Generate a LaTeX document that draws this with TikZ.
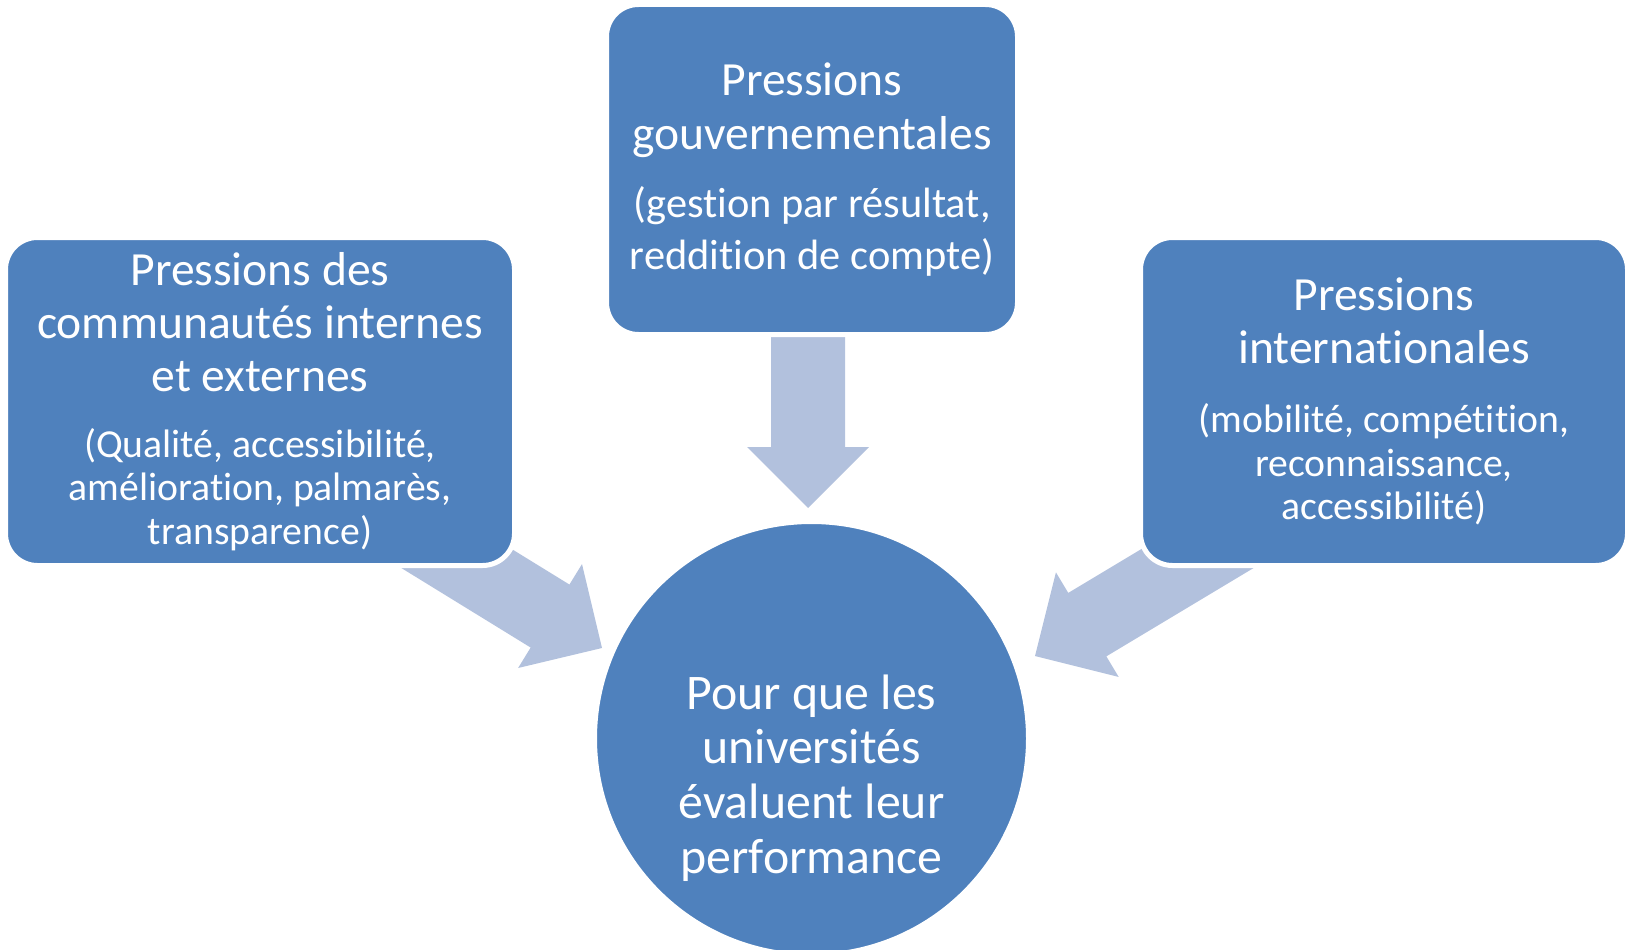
\documentclass[tikz,border=0pt]{standalone}
\usepackage{fontspec}
\setmainfont{Carlito}[Ligatures=NoCommon]
\usetikzlibrary{calc}
\definecolor{boxblue}{RGB}{79,129,189}
\definecolor{arrowblue}{RGB}{178,193,221}
\setlength{\parindent}{0pt}
\newcommand{\hdfont}{\fontsize{47.6}{53.3}\selectfont}
\newcommand{\smfont}{\fontsize{39.7}{43.6}\selectfont}
\newcommand{\smfontb}{\fontsize{42.4}{51.5}\selectfont}
\newcommand{\ctrfont}{\fontsize{49.8}{54.8}\selectfont}
\newcommand{\boxsetup}{\centering\setlength{\spaceskip}{0pt}\setlength{\xspaceskip}{0pt}}
\newcommand{\blockarrow}[2]{%
  \coordinate (ab) at ($(#2)!61pt!(#1)$);
  \fill[arrowblue] ($(#1)!37pt!90:(#2)$) -- ($(ab)!37pt!90:(#2)$) -- ($(ab)!61pt!90:(#2)$) -- (#2)
    -- ($(ab)!61pt!-90:(#2)$) -- ($(ab)!37pt!-90:(#2)$) -- ($(#1)!37pt!-90:(#2)$) -- cycle;}
\tikzset{
  pbox/.style={rectangle, rounded corners=32pt, fill=boxblue, draw=white, line width=5pt,
    text=white, inner sep=0pt},
}
\begin{document}
\begin{tikzpicture}[x=1pt, y=-1pt]
\useasboundingbox (0,0) rectangle (1630,950);

\coordinate (tailL) at (363,501);
\coordinate (tipL) at (602,648);
\coordinate (tailG) at (808,310);
\coordinate (tipG) at (808,508);
\coordinate (tailI) at (1275,512);
\coordinate (tipI) at (1035,656);
\foreach \src/\dst in {tailL/tipL, tailG/tipG, tailI/tipI}
{
  \blockarrow{\src}{\dst}
}

\node[pbox, minimum width=509pt, minimum height=328pt, text width=490pt] (comm) at (260,401.5)
  {\boxsetup{\hdfont Pressions des\\ communautés internes\\ et externes\par}\vspace{22pt}
   {\smfont (Qualité, accessibilité,\\ amélioration, palmarès,\\ transparence)\par}};
\node[pbox, minimum width=411pt, minimum height=330pt, text width=400pt] (gov) at (812,169.5)
  {\boxsetup{\hdfont Pressions\\ gouvernementales\par}\vspace{17pt}
   {\smfontb (gestion par résultat,\\ reddition de compte)\par}};
\node[pbox, minimum width=487pt, minimum height=328pt, text width=470pt] (intl) at (1384,401.5)
  {\boxsetup{\hdfont Pressions\\ internationales\par}\vspace{25pt}
   {\smfont (mobilité, compétition,\\ reconnaissance,\\ accessibilité)\par}};

\node[circle, fill=boxblue, draw=white, line width=5pt, minimum size=434pt, inner sep=0pt] (perf) at (811.5,738.5) {};
\node[text=white, align=center, font=\ctrfont] (perftxt) at ([yshift=-39.5pt]perf.center)
  {Pour que les\\ universités\\ évaluent leur\\ performance};

\end{tikzpicture}
\end{document}
